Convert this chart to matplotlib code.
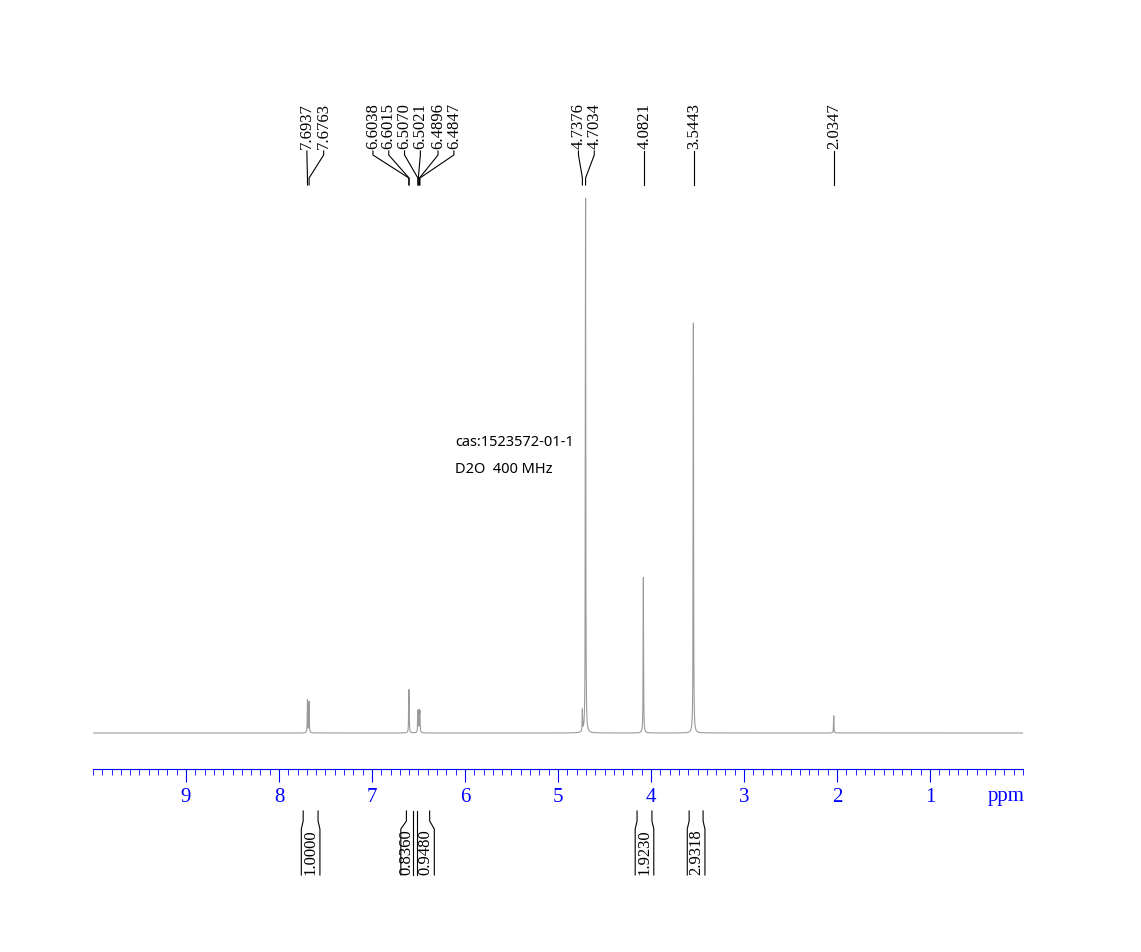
import numpy as np
import matplotlib
matplotlib.use("Agg")
import matplotlib.pyplot as plt
from matplotlib.ticker import MultipleLocator

# peak data (ppm, relative height)
peak_ppm = [7.6937, 7.6763, 6.6038, 6.6015, 6.5070, 6.5021, 6.4896, 6.4847, 4.7376, 4.7034, 4.0821, 3.5443, 2.0347]
peak_height = [0.062, 0.058, 0.05, 0.048, 0.035, 0.033, 0.035, 0.033, 0.04, 1.00, 0.29, 0.765, 0.032]
peak_labels = ["7.6937", "7.6763", "6.6038", "6.6015", "6.5070", "6.5021", "6.4896", "6.4847",
               "4.7376", "4.7034", "4.0821", "3.5443", "2.0347"]
# label groups: (label x positions in ppm, peak indices)
label_groups = [
    ([7.70, 7.52], [0, 1]),
    ([6.99, 6.82, 6.65, 6.48, 6.29, 6.12], [2, 3, 4, 5, 6, 7]),
    ([4.78, 4.61], [8, 9]),
    ([4.07], [10]),
    ([3.54], [11]),
    ([2.03], [12]),
]
# integrals: (left ppm, right ppm, value)
int_left = [7.74, 6.63, 6.52, 4.15, 3.59]
int_right = [7.58, 6.56, 6.38, 3.99, 3.44]
int_vals = ["1.0000", "0.8360", "0.9480", "1.9230", "2.9318"]
int_text_x = [7.66, 6.63, 6.43, 4.07, 3.515]
int_slant_l = [0.02, 0.06, 0.0, 0.02, 0.02]
int_slant_r = [0.02, 0.0, 0.05, 0.02, 0.02]

W, H = 1141, 953
fig = plt.figure(figsize=(W/100, H/100), dpi=100)
ax = fig.add_axes([93/W, 1-770/H, 930/W, 680/H])
def fy(py):  # pixel y -> axes fraction
    return (770-py)/680

x = np.linspace(0, 10, 20000)
y = np.zeros_like(x)
w = 0.0025
for p, h in zip(peak_ppm, peak_height):
    y += h / (1 + ((x-p)/w)**2)
ax.plot(x, y, color="#9a9a9a", lw=0.8)
ax.set_xlim(10, 0)
ax.set_ylim(-0.067, 1.199)

for s in ["top", "left", "right"]:
    ax.spines[s].set_visible(False)
ax.spines["bottom"].set_color("blue")
ax.set_yticks([])
ax.xaxis.set_major_locator(MultipleLocator(1))
ax.xaxis.set_minor_locator(MultipleLocator(0.1))
ax.tick_params(axis="x", which="major", direction="out", length=9, color="blue",
               labelcolor="blue", labelsize=15, pad=4)
ax.tick_params(axis="x", which="minor", direction="out", length=4, color="blue")
ax.set_xticks([1, 2, 3, 4, 5, 6, 7, 8, 9])
for t in ax.get_xticklabels():
    t.set_fontfamily("Liberation Serif")
ax.text(0.18, fy(797), "ppm", transform=ax.get_xaxis_transform(), color="blue",
        fontsize=15, family="Liberation Serif", ha="center", va="center", clip_on=False)

tr = ax.get_xaxis_transform()
serif = "Liberation Serif"
for lx, idx in label_groups:
    for lxi, i in zip(lx, idx):
        ax.text(lxi, fy(149), peak_labels[i], transform=tr, rotation=90, ha="center",
                va="bottom", fontsize=12, family=serif, clip_on=False)
        if len(idx) == 1:
            ax.plot([lxi, lxi], [fy(152), fy(186)], transform=tr, color="k", lw=0.8, clip_on=False)
        else:
            ax.plot([lxi, lxi, peak_ppm[i], peak_ppm[i]], [fy(152), fy(156), fy(179), fy(186)],
                    transform=tr, color="k", lw=0.8, clip_on=False)

for l, r, v, tx, sl, sr in zip(int_left, int_right, int_vals, int_text_x, int_slant_l, int_slant_r):
    ax.plot([l, l, l+sl, l+sl], [fy(812), fy(822), fy(830), fy(876)], transform=tr,
            color="k", lw=0.8, clip_on=False)
    ax.plot([r, r, r-sr, r-sr], [fy(812), fy(822), fy(830), fy(876)], transform=tr,
            color="k", lw=0.8, clip_on=False)
    ax.text(tx, fy(875), v, transform=tr, rotation=90, ha="center", va="bottom",
            fontsize=12, family=serif, clip_on=False)

fig.text(455/W, 1-443/H, "cas:1523572-01-1", fontsize=10.5, family="Noto Sans", va="center")
fig.text(455/W, 1-470/H, "D2O  400 MHz", fontsize=10.5, family="Noto Sans", va="center")
fig.savefig("out.png", dpi=100)
